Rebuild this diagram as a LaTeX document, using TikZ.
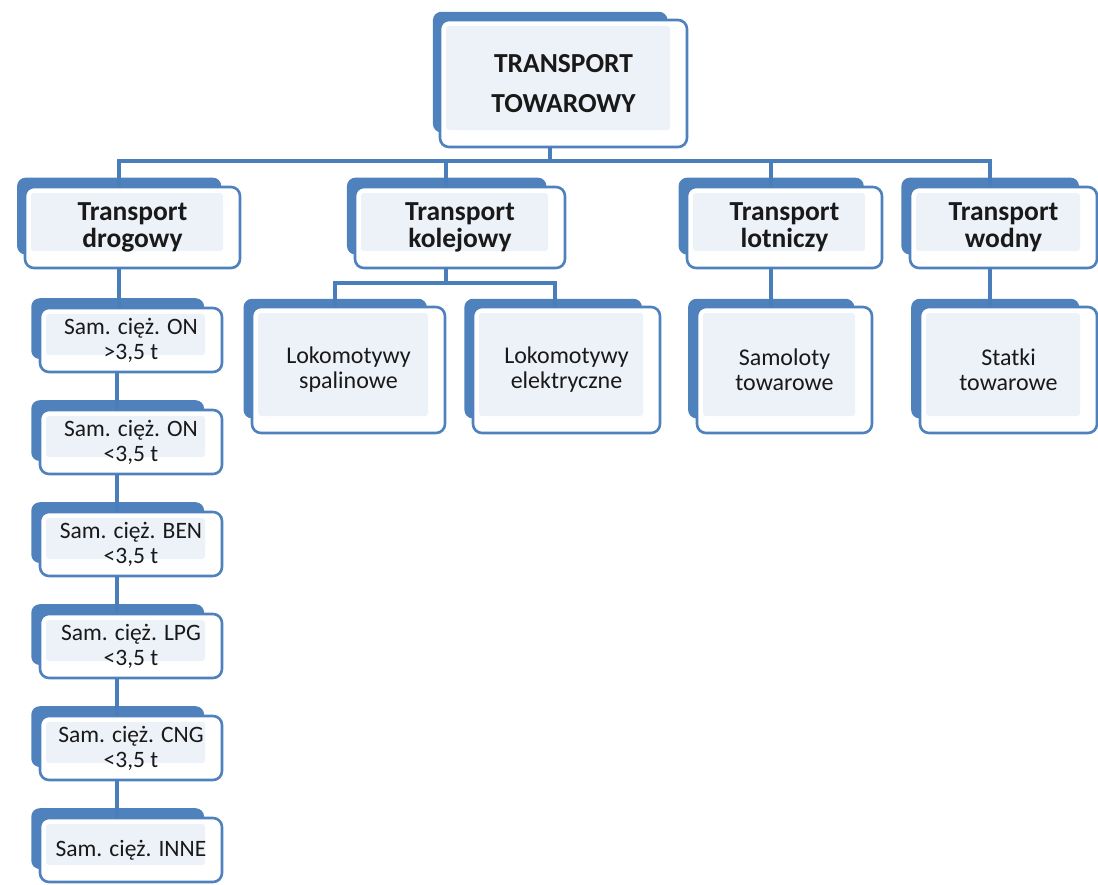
\documentclass[tikz,border=0pt]{standalone}
\usepackage{fontspec}
\setmainfont{Carlito}
\usetikzlibrary{positioning,shadows}
\definecolor{boxblue}{RGB}{79,129,189}
\definecolor{linkblue}{RGB}{74,126,187}
\definecolor{boxlight}{RGB}{237,241,248}
\definecolor{txtgray}{RGB}{25,25,25}

\begin{document}
\begin{tikzpicture}[x=1pt,y=1pt,
    box/.style={draw=boxblue,line width=2.6pt,fill=white,rounded corners=9pt,
      align=center,text=txtgray,inner sep=0pt,outer sep=0pt,
      copy shadow={shadow xshift=-14pt,shadow yshift=12pt,shadow scale=0.95,
                   fill=boxblue,draw=none},
      path picture={\fill[boxlight,rounded corners=3pt]
         ([shift={(6pt,-6pt)}]path picture bounding box.north west) rectangle
         ([shift={(-17pt,17pt)}]path picture bounding box.south east);}},
    head/.style={box,minimum height=81pt,font=\fontsize{27.5}{27}\selectfont\bfseries},
    leaf/.style={box,minimum height=126pt,font=\fontsize{24}{25}\selectfont},
    truck/.style={box,minimum width=182pt,minimum height=64pt,
                  font=\fontsize{23.5}{25}\selectfont},
    link/.style={draw=linkblue,line width=4pt}]
  \useasboundingbox (0,0) rectangle (1098,-884);

  \node[box,minimum width=247pt,minimum height=127pt,
        font=\fontsize{27.5}{40}\selectfont\bfseries] (top) at (563.5,-83.5)
       {TRANSPORT\\TOWAROWY};

  \node[head,minimum width=215pt] (drog) at (132.5,-227.5) {Transport\\drogowy};
  \node[head,minimum width=210pt] (kol)  at (460,-227.5)   {Transport\\kolejowy};
  \node[head,minimum width=195pt] (lot)  at (784.5,-227.5) {Transport\\lotniczy};
  \node[head,minimum width=187pt] (wod)  at (1003.5,-227.5) {Transport\\wodny};

  \node[leaf,minimum width=193pt] (spal)  at (348.5,-370)  {Lokomotywy\\spalinowe};
  \node[leaf,minimum width=187pt] (elek)  at (566.5,-370)  {Lokomotywy\\elektryczne};
  \node[leaf,minimum width=175pt] (samol) at (784.5,-370)  {Samoloty\\towarowe};
  \node[leaf,minimum width=177pt] (statk) at (1008.5,-370) {Statki\\towarowe};

  \node[truck] (on1) at (131,-340) {Sam. cięż. ON\\>3,5 t};
  \node[truck,below=38pt of on1] (on2)  {Sam. cięż. ON\\<3,5 t};
  \node[truck,below=38pt of on2] (ben)  {Sam. cięż. BEN\\<3,5 t};
  \node[truck,below=38pt of ben] (lpg)  {Sam. cięż. LPG\\<3,5 t};
  \node[truck,below=38pt of lpg] (cng)  {Sam. cięż. CNG\\<3,5 t};
  \node[truck,below=38pt of cng] (inne) {Sam. cięż. INNE};

  % connectors run from the centre of the blue back plate
  \draw[link] ([xshift=-14pt]top.south) -- ++(0,-14) -| ([xshift=-14pt]drog.north);
  \draw[link] ([xshift=-14pt]top.south) -- ++(0,-14) -| ([xshift=-14pt]kol.north);
  \draw[link] ([xshift=-14pt]top.south) -- ++(0,-14) -| ([xshift=-14pt]lot.north);
  \draw[link] ([xshift=-14pt]top.south) -- ++(0,-14) -| ([xshift=-14pt]wod.north);

  \draw[link] ([xshift=-14pt]kol.south) -- ++(0,-15) -| ([xshift=-14pt]spal.north);
  \draw[link] ([xshift=-14pt]kol.south) -- ++(0,-15) -| ([xshift=-12pt]elek.north);
  \draw[link] ([xshift=-14pt]lot.south) -- ([xshift=-14pt]samol.north);
  \draw[link] ([xshift=-14pt]wod.south) -- ([xshift=-14pt]wod.south |- statk.north);

  \draw[link] ([xshift=-14pt]drog.south) -- ([xshift=-14pt]drog.south |- on1.north);
  \draw[link] ([xshift=-14pt]on1.south) -- ([xshift=-14pt]on2.north);
  \draw[link] ([xshift=-14pt]on2.south) -- ([xshift=-14pt]ben.north);
  \draw[link] ([xshift=-14pt]ben.south) -- ([xshift=-14pt]lpg.north);
  \draw[link] ([xshift=-14pt]lpg.south) -- ([xshift=-14pt]cng.north);
  \draw[link] ([xshift=-14pt]cng.south) -- ([xshift=-14pt]inne.north);
\end{tikzpicture}
\end{document}
